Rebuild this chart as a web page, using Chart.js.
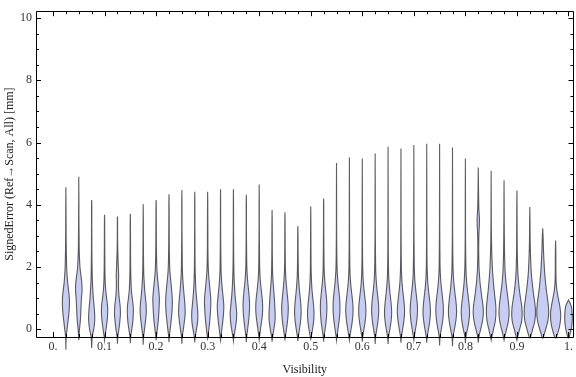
<!DOCTYPE html>
<html><head><meta charset="utf-8">
<script src="https://cdn.jsdelivr.net/npm/chart.js@4/dist/chart.umd.min.js"></script>
<style>html,body{margin:0;padding:0;background:#fff;}#wrap{width:576px;height:377px;}</style>
</head><body><div id="wrap"><canvas id="c" width="576" height="377"></canvas></div>
<script>
// ---- data ----
const visibility = [0.025,0.05,0.075,0.1,0.125,0.15,0.175,0.2,0.225,0.25,0.275,0.3,0.325,0.35,0.375,0.4,0.425,0.45,0.475,0.5,
  0.525,0.55,0.575,0.6,0.625,0.65,0.675,0.7,0.725,0.75,0.775,0.8,0.825,0.85,0.875,0.9,0.925,0.95,0.975,1.0];
const maxError = [4.56,4.9,4.15,3.68,3.62,3.71,4.02,4.15,4.34,4.47,4.42,4.42,4.5,4.5,4.32,4.65,3.83,3.76,3.32,3.94,
  4.2,5.34,5.52,5.49,5.65,5.86,5.81,5.92,5.96,5.96,5.84,5.49,5.2,5.09,4.79,4.46,3.93,3.24,2.85,0.94];
const minError = [-0.66,-0.35,-0.6,-0.35,-0.47,-0.45,-0.5,-0.35,-0.42,-0.47,-0.42,-0.3,-0.35,-0.38,-0.42,-0.35,-0.4,-0.32,-0.38,-0.32,
  -0.4,-0.35,-0.35,-0.4,-0.47,-0.47,-0.43,-0.35,-0.43,-0.52,-0.55,-0.45,-0.43,-0.35,-0.35,-0.35,-0.28,-0.28,-0.28,-0.28];
// relative density of each violin at these error levels
const densityLevels = [-0.25,0,0.25,0.5,0.75,1,1.25,1.5,1.75,2,2.5,3,3.5,4];
const densities = [
  [0.05,0.2,0.35,0.5,0.58,0.58,0.45,0.3,0.2,0.13,0.07,0.04,0.03,0.02],
  [0.03,0.12,0.25,0.33,0.38,0.45,0.55,0.5,0.35,0.2,0.08,0.05,0.03,0.02],
  [0.1,0.35,0.5,0.5,0.4,0.28,0.2,0.13,0.09,0.07,0.04,0.03,0.02,0.02],
  [0.06,0.25,0.42,0.52,0.5,0.35,0.2,0.12,0.08,0.06,0.04,0.03,0.02,0.02],
  [0.06,0.25,0.4,0.5,0.45,0.3,0.2,0.18,0.2,0.15,0.06,0.03,0.02,0.02],
  [0.06,0.25,0.42,0.5,0.48,0.32,0.18,0.12,0.08,0.06,0.04,0.03,0.02,0.02],
  [0.06,0.22,0.38,0.5,0.5,0.38,0.25,0.17,0.1,0.07,0.04,0.03,0.02,0.02],
  [0.05,0.2,0.35,0.45,0.52,0.55,0.45,0.32,0.2,0.12,0.06,0.04,0.03,0.02],
  [0.05,0.2,0.35,0.48,0.55,0.55,0.45,0.33,0.2,0.12,0.06,0.04,0.03,0.02],
  [0.06,0.25,0.42,0.55,0.52,0.42,0.3,0.2,0.12,0.08,0.05,0.03,0.02,0.02],
  [0.08,0.3,0.48,0.52,0.42,0.3,0.2,0.13,0.09,0.06,0.04,0.03,0.02,0.02],
  [0.05,0.2,0.35,0.45,0.52,0.52,0.4,0.28,0.17,0.1,0.05,0.04,0.03,0.02],
  [0.06,0.22,0.38,0.5,0.55,0.45,0.32,0.2,0.12,0.08,0.05,0.03,0.02,0.02],
  [0.08,0.3,0.48,0.55,0.45,0.32,0.22,0.15,0.1,0.07,0.04,0.03,0.02,0.02],
  [0.05,0.22,0.38,0.5,0.55,0.5,0.38,0.25,0.15,0.09,0.05,0.03,0.02,0.02],
  [0.06,0.22,0.4,0.55,0.58,0.5,0.35,0.22,0.13,0.08,0.05,0.03,0.02,0.02],
  [0.08,0.3,0.48,0.52,0.45,0.38,0.28,0.18,0.1,0.07,0.04,0.03,0.02,0.02],
  [0.06,0.25,0.42,0.53,0.55,0.45,0.32,0.2,0.12,0.07,0.04,0.03,0.02,0.02],
  [0.07,0.27,0.45,0.55,0.52,0.4,0.27,0.17,0.1,0.07,0.04,0.03,0.02,0.02],
  [0.08,0.3,0.48,0.55,0.48,0.35,0.22,0.14,0.09,0.06,0.04,0.03,0.02,0.02],
  [0.06,0.25,0.42,0.52,0.55,0.48,0.35,0.22,0.13,0.08,0.05,0.03,0.02,0.02],
  [0.06,0.25,0.42,0.55,0.58,0.52,0.38,0.25,0.15,0.09,0.05,0.03,0.02,0.02],
  [0.07,0.28,0.48,0.6,0.6,0.48,0.33,0.2,0.12,0.08,0.05,0.03,0.02,0.02],
  [0.07,0.28,0.48,0.6,0.58,0.45,0.3,0.18,0.11,0.07,0.04,0.03,0.02,0.02],
  [0.07,0.27,0.46,0.58,0.58,0.47,0.32,0.2,0.12,0.08,0.05,0.03,0.02,0.02],
  [0.08,0.3,0.5,0.6,0.55,0.42,0.28,0.17,0.1,0.07,0.04,0.03,0.02,0.02],
  [0.07,0.28,0.48,0.6,0.58,0.45,0.3,0.18,0.11,0.07,0.04,0.03,0.02,0.02],
  [0.07,0.28,0.48,0.6,0.6,0.48,0.33,0.2,0.12,0.08,0.05,0.03,0.02,0.02],
  [0.08,0.3,0.5,0.62,0.58,0.45,0.3,0.18,0.11,0.07,0.04,0.03,0.02,0.02],
  [0.07,0.28,0.5,0.62,0.62,0.5,0.35,0.22,0.13,0.08,0.05,0.03,0.02,0.02],
  [0.08,0.32,0.55,0.68,0.65,0.52,0.36,0.23,0.14,0.09,0.05,0.03,0.02,0.02],
  [0.08,0.35,0.58,0.7,0.65,0.5,0.35,0.22,0.14,0.09,0.05,0.03,0.02,0.02],
  [0.1,0.4,0.7,0.85,0.8,0.62,0.45,0.3,0.2,0.13,0.07,0.1,0.2,0.08],
  [0.1,0.4,0.68,0.8,0.78,0.65,0.5,0.38,0.28,0.2,0.1,0.05,0.03,0.02],
  [0.1,0.42,0.72,0.85,0.8,0.65,0.48,0.33,0.22,0.15,0.08,0.05,0.03,0.02],
  [0.12,0.45,0.78,0.88,0.8,0.6,0.42,0.28,0.18,0.12,0.06,0.04,0.03,0.02],
  [0.12,0.48,0.82,0.95,0.9,0.72,0.55,0.4,0.28,0.2,0.1,0.05,0.03,0.02],
  [0.12,0.5,0.85,1.0,0.95,0.8,0.62,0.48,0.36,0.27,0.14,0.06,0.03,0.02],
  [0.15,0.55,0.8,0.85,0.7,0.45,0.22,0.1,0.06,0.05,0.04,0.03,0.02,0.02],
  [0.12,0.45,0.62,0.62,0.45,0.22,0.08,0.04,0.03,0.02,0.02,0.02,0.02,0.02]
];
const xTickValues = [0,0.1,0.2,0.3,0.4,0.5,0.6,0.7,0.8,0.9,1.0];
const xTickLabels = ["0.","0.1","0.2","0.3","0.4","0.5","0.6","0.7","0.8","0.9","1."];
const yTickValues = [0,2,4,6,8,10];
const yTickLabels = ["0","2","4","6","8","10"];

// ---- drawing ----
function crPoint(p0,p1,p2,p3,t){
  const t2=t*t,t3=t2*t;
  const f=(a,b,c,d)=>0.5*((2*b)+(-a+c)*t+(2*a-5*b+4*c-d)*t2+(-a+3*b-3*c+d)*t3);
  return [f(p0[0],p1[0],p2[0],p3[0]), f(p0[1],p1[1],p2[1],p3[1])];
}
const violinPlugin = {
  id:'violins',
  afterDatasetsDraw(chart){
    const {ctx, scales:{x,y}} = chart;
    const unit = Math.abs(x.getPixelForValue(0.025)-x.getPixelForValue(0));
    const w = unit*0.46;
    ctx.save();
    visibility.forEach((vis,i)=>{
      const knots=[[minError[i],0]];
      densityLevels.forEach((lv,k)=>{ if(lv>minError[i]+0.02 && lv<maxError[i]-0.02) knots.push([lv,densities[i][k]]); });
      knots.push([maxError[i],0]);
      const pts=[];
      for(let s=0;s<knots.length-1;s++){
        const p0=knots[Math.max(0,s-1)],p1=knots[s],p2=knots[s+1],p3=knots[Math.min(knots.length-1,s+2)];
        const n=16;
        for(let t=0;t<n;t++){ pts.push(crPoint(p0,p1,p2,p3,t/n)); }
      }
      pts.push(knots[knots.length-1]);
      const cx=x.getPixelForValue(vis);
      ctx.beginPath();
      pts.forEach((p,j)=>{ const px=cx+Math.max(0,p[1])*w, py=y.getPixelForValue(p[0]); j?ctx.lineTo(px,py):ctx.moveTo(px,py); });
      for(let j=pts.length-1;j>=0;j--){ const p=pts[j]; ctx.lineTo(cx-Math.max(0,p[1])*w, y.getPixelForValue(p[0])); }
      ctx.closePath();
      ctx.fillStyle='rgb(200,206,243)';
      ctx.fill();
      ctx.strokeStyle='rgba(50,50,50,0.78)';
      ctx.lineWidth=1.1;
      ctx.stroke();
    });
    ctx.restore();
  },
  afterDraw(chart){
    const {ctx, chartArea:a, scales:{x,y}} = chart;
    ctx.save();
    ctx.strokeStyle='#000'; ctx.lineWidth=1;
    ctx.beginPath();
    ctx.rect(Math.round(a.left)+0.5, Math.round(a.top)+0.5, Math.round(a.right-a.left), Math.round(a.bottom-a.top));
    ctx.stroke();
    ctx.beginPath();
    for(let k=0;k<=40;k++){
      const v=k*0.025; const major = k%4===0;
      const px=Math.round(x.getPixelForValue(v))+0.5; const L=major?5:3;
      ctx.moveTo(px,a.bottom); ctx.lineTo(px,a.bottom-L);
      ctx.moveTo(px,a.top); ctx.lineTo(px,a.top+L);
    }
    for(let k=0;k<=20;k++){
      const v=k*0.5; const major = k%4===0;
      const py=Math.round(y.getPixelForValue(v))+0.5; const L=major?5:3;
      ctx.moveTo(a.left,py); ctx.lineTo(a.left+L,py);
      ctx.moveTo(a.right,py); ctx.lineTo(a.right-L,py);
    }
    ctx.stroke();
    ctx.restore();
  }
};

const serif = "'Liberation Serif','Times New Roman',serif";
new Chart(document.getElementById('c'), {
  type:'scatter',
  data:{datasets:[{data:visibility.map((v,i)=>({x:v,y:maxError[i]})), pointRadius:0, showLine:false}]},
  options:{
    responsive:false, animation:false, devicePixelRatio:1,
    layout:{padding:{top:4,right:2,left:0,bottom:0}},
    plugins:{legend:{display:false}, tooltip:{enabled:false}},
    scales:{
      x:{type:'linear', min:-0.033, max:1.0097,
        afterBuildTicks:s=>{ s.ticks = xTickValues.map(v=>({value:v})); },
        afterFit:s=>{ s.height=40; },
        ticks:{callback:(v,i)=>xTickLabels[i], autoSkip:false, maxRotation:0, padding:3, color:'#333', font:{family:serif,size:12}},
        grid:{display:false, drawTicks:false}, border:{display:false},
        title:{display:true, text:'Visibility', color:'#222', font:{family:serif,size:12}, padding:{top:3,bottom:0}}
      },
      y:{type:'linear', min:-0.25, max:10.22,
        afterBuildTicks:s=>{ s.ticks = yTickValues.map(v=>({value:v})); },
        afterFit:s=>{ s.width=36; },
        ticks:{callback:(v,i)=>yTickLabels[i], autoSkip:false, padding:4, color:'#333', font:{family:serif,size:12}},
        grid:{display:false, drawTicks:false}, border:{display:false},
        title:{display:true, text:'SignedError (Ref\u2192Scan, All) [mm]', color:'#222', font:{family:serif,size:12}, padding:{top:3,bottom:0}}
      }
    }
  },
  plugins:[violinPlugin]
});
</script></body></html>
